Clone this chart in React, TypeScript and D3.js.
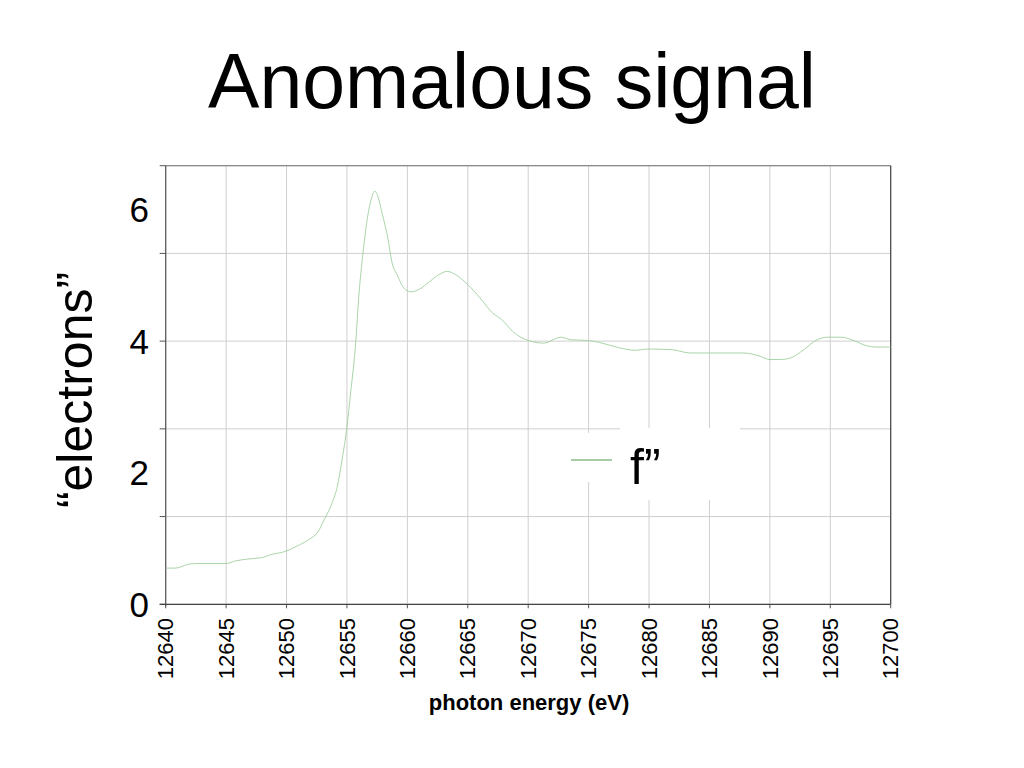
import React from "react";
import * as d3 from "d3";

const title = "Anomalous signal";
const xLabel = "photon energy (eV)";
const yLabel = "“electrons”";
const legendLabel = "f”";

const xTicks = [12640, 12645, 12650, 12655, 12660, 12665, 12670, 12675, 12680, 12685, 12690, 12695, 12700];
const yTickLabels = [0, 2, 4, 6];
const yGrid = [0, 4 / 3, 8 / 3, 4, 16 / 3, 20 / 3];

const energy = [
  12640, 12640.8, 12641.9, 12642.7, 12645, 12645.8, 12646.9, 12648, 12648.6, 12650, 12650.8, 12651.9,
  12652.6, 12653.1, 12653.7, 12654.2, 12654.6, 12655, 12655.3, 12655.7, 12656, 12656.3, 12656.7, 12657,
  12657.3, 12657.5, 12657.9, 12658.4, 12658.7, 12659.2, 12659.7, 12660.3, 12661, 12661.8, 12662.6, 12663.3,
  12664, 12665, 12666, 12667.1, 12667.8, 12668.7, 12670, 12671.3, 12672.7, 12673.6, 12674.9, 12675.9,
  12677.3, 12678.9, 12679.8, 12681.9, 12683.4, 12685.3, 12687.8, 12689.2, 12690, 12690.8, 12691.8, 12692.8,
  12693.9, 12694.8, 12695.9, 12696.8, 12698, 12698.8, 12700,
];
const fpp = [
  0.55, 0.55, 0.61, 0.62, 0.62, 0.66, 0.69, 0.71, 0.75, 0.81, 0.88, 0.99,
  1.1, 1.28, 1.51, 1.79, 2.2, 2.7, 3.21, 3.92, 4.73, 5.29, 5.88, 6.15,
  6.28, 6.23, 5.95, 5.55, 5.22, 4.99, 4.81, 4.75, 4.79, 4.9, 5.01, 5.06,
  5.01, 4.86, 4.66, 4.42, 4.33, 4.15, 4.01, 3.97, 4.06, 4.02, 4.01, 3.98,
  3.91, 3.86, 3.88, 3.87, 3.82, 3.82, 3.82, 3.77, 3.72, 3.72, 3.75, 3.87,
  4.02, 4.06, 4.06, 4.02, 3.93, 3.91, 3.91,
];

export default function App() {
  const left = 165.7, right = 890.7, top = 165.7, bottom = 604.3;
  const x = d3.scaleLinear().domain([12640, 12700]).range([left, right]);
  const y = d3.scaleLinear().domain([0, 20 / 3]).range([bottom, top]);
  const pts = energy.map((e, i) => [e, fpp[i]] as [number, number]);
  const line = d3
    .line<[number, number]>()
    .x((d) => x(d[0]))
    .y((d) => y(d[1]))
    .curve(d3.curveMonotoneX);
  const font = "'Liberation Sans', Arial, sans-serif";
  return (
    <svg width={1024} height={768} style={{ position: "absolute", left: 0, top: 0, background: "#fff" }} fontFamily={font}>
      <rect x={0} y={0} width={1024} height={768} fill="#fff" />
      <text x={512} y={108} textAnchor="middle" fontSize={77} fill="#000">{title}</text>
      {xTicks.map((t) => (
        <line key={"gx" + t} x1={x(t)} x2={x(t)} y1={top} y2={bottom} stroke="#cfcfcf" strokeWidth={1} />
      ))}
      {yGrid.map((t, i) => (
        <line key={"gy" + i} x1={left} x2={right} y1={y(t)} y2={y(t)} stroke="#cfcfcf" strokeWidth={1} />
      ))}
      {yGrid.map((t, i) => (
        <line key={"ty" + i} x1={left - 6} x2={left} y1={y(t)} y2={y(t)} stroke="#555" strokeWidth={1} />
      ))}
      {xTicks.map((t) => (
        <line key={"tx" + t} x1={x(t)} x2={x(t)} y1={bottom} y2={bottom + 4} stroke="#555" strokeWidth={1} />
      ))}
      <line x1={left} x2={right} y1={top} y2={top} stroke="#888" strokeWidth={1.2} />
      <line x1={right} x2={right} y1={top} y2={bottom} stroke="#444" strokeWidth={1.2} />
      <line x1={left} x2={left} y1={top} y2={bottom + 2} stroke="#555" strokeWidth={1.2} />
      <line x1={left - 6} x2={right} y1={bottom} y2={bottom} stroke="#444" strokeWidth={1.2} />
      <rect x={565} y={433} width={50} height={49} fill="#fff" />
      <rect x={620} y={428} width={120} height={72} fill="#fff" />
      <path d={line(pts) || ""} fill="none" stroke="#9fcf9f" strokeWidth={0.9} />
      <line x1={571} x2={612} y1={460} y2={460} stroke="#4c9a4c" strokeWidth={1} />
      <text x={630} y={484} fontSize={50} fill="#000">{legendLabel}</text>
      {yTickLabels.map((t) => (
        <text key={"yl" + t} x={149} y={y(t)} dy="0.36em" textAnchor="end" fontSize={35} fill="#000">{t}</text>
      ))}
      <text transform={`translate(92,390) rotate(-90)`} textAnchor="middle" fontSize={50} fill="#000">{yLabel}</text>
      {xTicks.map((t) => (
        <text key={"xl" + t} transform={`translate(${x(t)},618) rotate(-90)`} textAnchor="end" dy="0.35em" fontSize={22} fill="#000">{t}</text>
      ))}
      <text x={529} y={710} textAnchor="middle" fontSize={22} fontWeight="bold" fill="#000">{xLabel}</text>
    </svg>
  );
}
